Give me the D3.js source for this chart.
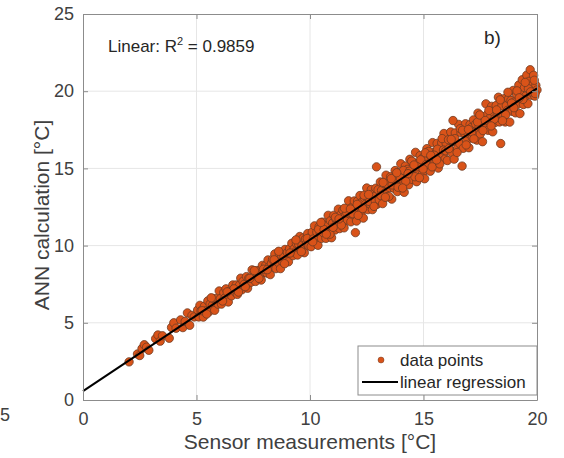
<!DOCTYPE html>
<html>
<head>
<meta charset="utf-8">
<script src="https://cdn.jsdelivr.net/npm/d3@7"></script>
<style>
  body { margin: 0; background: #fff; }
  text { font-family: "Liberation Sans", Arial, sans-serif; }
</style>
</head>
<body>
<svg width="564" height="458"></svg>
<script>
const sensorValues = [
  2.03, 2.4, 2.5, 2.6, 2.7, 2.8, 2.9, 3.2, 3.3, 3.4, 3.5, 3.8, 3.9, 4.0, 4.1, 4.3, 4.4, 4.5, 4.6, 4.7, 4.8, 4.9,
  5.05, 5.1, 5.15, 5.2, 5.3, 5.35, 5.4, 5.5, 5.55, 5.6, 5.7, 5.75, 5.8, 5.9, 5.95, 6.0, 6.05, 6.1, 6.2, 6.25,
  6.3, 6.4, 6.45, 6.5, 6.55, 6.6, 6.7, 6.75, 6.8, 6.9, 6.95, 7.0, 7.05, 7.1, 7.2, 7.25, 7.3, 7.4, 7.45, 7.5,
  7.6, 7.65, 7.7, 7.8, 7.85, 7.9, 8.0,
  8.05, 8.1, 8.15, 8.2, 8.25, 8.3, 8.35, 8.4, 8.45, 8.5, 8.55, 8.6, 8.65, 8.7, 8.75, 8.8, 8.85, 8.9, 8.95, 9.0,
  9.05, 9.1, 9.15, 9.2, 9.25, 9.3, 9.35, 9.4, 9.45, 9.5, 9.55, 9.6, 9.65, 9.7, 9.75, 9.8, 9.85, 9.9, 9.95, 10.0,
  5.25, 5.65, 6.15, 6.65, 7.15, 7.55, 7.95, 8.12, 8.42, 8.62, 8.88, 9.12, 9.38, 9.62, 9.88, 5.45, 6.35, 6.85, 7.35, 7.75,
  10.05, 10.1, 10.15, 10.2, 10.25, 10.3, 10.35, 10.4, 10.45, 10.5, 10.55, 10.6, 10.65, 10.7, 10.75, 10.8, 10.85, 10.9,
  10.95, 11.0, 11.05, 11.1, 11.15, 11.2, 11.25, 11.3, 11.35, 11.4, 11.45, 11.5, 11.55, 11.6, 11.65, 11.7, 11.75, 11.8,
  11.85, 11.9, 11.95, 12.0, 12.02, 12.05, 12.1, 12.15, 12.2, 12.25, 12.3, 12.35, 12.4, 12.45, 12.5, 12.55, 12.6, 12.65,
  12.7, 12.75, 12.8, 12.85, 12.9, 12.93, 12.95, 13.0,
  10.12, 10.38, 10.62, 10.88, 11.12, 11.38, 11.62, 11.88, 12.12, 12.38, 12.62, 12.88,
  10.48, 10.72, 11.02, 11.28, 11.52, 11.78, 12.08, 12.32, 12.58, 12.82,
  13.05, 13.1, 13.15, 13.2, 13.25, 13.3, 13.35, 13.4, 13.45, 13.5, 13.55, 13.6, 13.65, 13.7, 13.75, 13.8, 13.85, 13.9,
  13.95, 14.0, 14.05, 14.1, 14.15, 14.2, 14.25, 14.3, 14.35, 14.4, 14.45, 14.5, 14.55, 14.6, 14.65, 14.7, 14.75, 14.8,
  14.85, 14.9, 14.95, 15.0, 15.05, 15.1, 15.15, 15.2, 15.25, 15.3, 15.35, 15.4, 15.45, 15.5, 15.55, 15.6, 15.65, 15.7,
  15.75, 15.8, 15.85, 15.9, 15.95, 16.0,
  13.12, 13.38, 13.62, 13.88, 14.12, 14.38, 14.62, 14.88, 15.12, 15.38, 15.62, 15.88,
  13.22, 13.48, 13.72, 13.98, 14.22, 14.48, 14.72, 14.98, 15.22, 15.48, 15.72, 15.98,
  13.32, 13.58, 13.82, 14.08, 14.32, 14.58, 14.82, 15.08, 15.32, 15.58, 15.82,
  16.05, 16.1, 16.15, 16.2, 16.25, 16.3, 16.35, 16.4, 16.45, 16.5, 16.55, 16.6, 16.65, 16.7, 16.75, 16.8, 16.85, 16.9,
  16.95, 17.0, 17.05, 17.1, 16.3, 17.15, 17.2, 17.25, 17.3, 17.35, 17.4, 17.45, 17.5, 17.55, 17.6, 17.65, 17.7, 17.75,
  17.8, 17.85, 17.9, 17.95, 18.0, 18.05, 18.1, 18.15, 18.2, 18.25, 18.3, 18.35, 18.4, 18.45, 18.5, 18.55, 18.6, 18.65,
  18.7, 18.75, 18.8, 18.85, 18.9, 18.95, 19.0, 19.05, 19.1, 19.15, 19.2, 19.25, 19.3, 19.35, 19.4, 19.45, 19.5, 19.55,
  19.6, 19.65, 19.7, 19.75, 19.8, 19.85, 19.9, 19.95, 20.0,
  16.12, 16.38, 16.62, 16.88, 17.12, 17.38, 17.62, 17.88, 18.12, 18.38, 18.62, 18.88, 19.12, 19.38, 19.62, 19.88,
  16.22, 16.48, 16.72, 16.98, 17.22, 17.48, 17.72, 17.98, 18.22, 18.48, 18.72, 18.98, 19.22, 19.48, 19.72, 19.92
];
const annValues = [
  2.47, 2.98, 2.88, 3.33, 3.58, 3.42, 3.22, 3.97, 4.21, 3.81, 4.16, 4.0, 4.7, 5.0, 4.65, 5.19, 4.69, 5.09, 5.64, 4.84, 5.48, 5.38,
  5.83, 5.38, 6.13, 5.78, 5.37, 6.07, 5.77, 6.42, 5.72, 6.22, 6.12, 6.57, 5.81, 6.56, 6.21, 7.06, 6.56, 6.21, 6.96, 6.61,
  7.2, 6.35, 7.05, 6.95, 6.75, 7.45, 7.0, 7.45, 6.84, 7.44, 7.89, 7.14, 7.69, 7.49, 7.99, 7.24, 7.88, 7.63, 8.43, 7.98,
  7.68, 8.38, 8.03, 8.42, 7.77, 8.72, 8.27,
  8.72, 8.22, 9.07, 8.62, 8.12, 8.86, 9.11, 8.61, 9.46, 8.51, 9.06, 8.91, 9.46, 8.51, 9.36, 8.95, 9.3, 9.75, 9.0, 9.55,
  8.95, 9.8, 9.5, 10.15, 9.35, 9.79, 9.59, 10.14, 9.39, 10.09, 10.59, 9.79, 10.04, 10.49, 9.54, 10.43, 10.13, 10.78, 9.98, 10.53,
  5.78, 6.62, 6.41, 7.2, 7.34, 8.38, 8.47, 8.44, 9.08, 9.63, 8.83, 9.52, 10.37, 9.61, 10.46, 5.57, 7.0, 6.99, 7.88, 7.88,
  9.93, 10.88, 10.43, 11.28, 10.33, 10.87, 10.02, 11.22, 10.82, 10.47, 11.52, 10.82, 11.32, 10.47, 11.27, 11.96, 10.91, 11.61,
  10.51, 11.46, 11.96, 11.01, 11.71, 11.46, 12.36, 11.1, 12.0, 11.55, 12.3, 11.15, 11.95, 12.35, 11.65, 12.9, 12.05, 11.54,
  12.49, 11.99, 12.89, 10.84, 12.46, 11.59, 12.89, 12.29, 13.24, 12.14, 12.83, 11.78, 13.08, 12.68, 13.73, 12.33, 13.08, 12.68,
  13.63, 12.33, 13.37, 13.17, 13.72, 15.1, 12.67, 13.62,
  10.25, 11.05, 11.04, 10.74, 11.83, 11.33, 12.12, 12.07, 11.96, 13.26, 12.85, 12.85,
  11.5, 10.74, 11.18, 11.73, 12.42, 12.37, 12.67, 12.4, 13.31, 12.54,
  12.97, 14.12, 13.57, 12.72, 14.02, 13.41, 14.56, 13.16, 14.01, 13.76, 14.46, 13.01, 14.31, 13.71, 14.86, 14.1, 13.5, 14.7,
  14.1, 15.3, 13.9, 14.6, 13.45, 15.15, 14.3, 14.94, 13.94, 15.59, 14.79, 14.29, 15.39, 14.69, 16.04, 14.14, 15.34, 14.73,
  15.83, 15.18, 14.63, 15.73, 14.33, 15.58, 16.28, 15.18, 15.93, 14.82, 15.72, 16.67, 15.27, 16.07, 15.72, 16.62, 15.02, 16.12,
  15.62, 16.66, 15.91, 17.26, 15.61, 16.61,
  13.24, 13.99, 13.93, 13.78, 14.87, 14.82, 14.46, 15.56, 15.25, 15.1, 16.24, 16.19,
  14.09, 13.19, 14.28, 14.38, 14.17, 15.47, 15.11, 14.96, 16.1, 15.85, 15.29, 16.14,
  13.13, 14.34, 14.72, 13.73, 14.66, 15.22, 14.4, 16.01, 15.84, 15.55, 16.93,
  15.51, 16.86, 16.21, 17.36, 16.01, 16.75, 15.6, 17.3, 16.7, 16.3, 17.85, 16.6, 17.3, 15.15, 16.3, 17.29, 17.89, 16.79,
  17.29, 16.34, 17.84, 17.64, 18.1, 16.99, 18.14, 17.34, 17.88, 16.83, 18.58, 17.73, 17.23, 18.38, 16.73, 18.08, 17.63, 19.18,
  18.47, 17.47, 18.22, 17.97, 19.02, 17.37, 18.62, 17.97, 19.07, 18.47, 19.61, 18.01, 16.61, 19.06, 18.46, 19.51, 18.01, 19.06,
  18.76, 19.51, 18.0, 19.4, 18.7, 20.05, 19.3, 18.6, 19.8, 19.15, 20.4, 18.55, 19.79, 20.74, 19.14, 20.24, 19.69, 21.04,
  19.19, 20.64, 21.39, 19.74, 20.38, 21.03, 19.68, 20.38, 20.08,
  16.28, 16.93, 17.57, 16.52, 17.36, 18.01, 17.45, 18.75, 18.19, 19.44, 18.48, 19.23, 20.02, 19.47, 20.16, 20.71,
  16.88, 16.03, 17.47, 17.52, 16.91, 18.46, 18.1, 17.75, 18.79, 18.09, 19.93, 18.93, 19.57, 20.57, 19.96, 19.85
];
// fitted line: intercept, slope
const fitCoef = [0.58, 0.98];
const fitRange = [0, 20];
const xTicks = [0, 5, 10, 15, 20];
const yTicks = [0, 5, 10, 15, 20, 25];
const legendLabels = ['data points', 'linear regression'];

const points = sensorValues.map((s, i) => ({x: s, y: annValues[i]}));

const svg = d3.select('svg');
const margin = {left: 83, right: 27, top: 14, bottom: 58};
const W = 564 - margin.left - margin.right;
const H = 458 - margin.top - margin.bottom;

const g = svg.append('g')
    .attr('transform', `translate(${margin.left}, ${margin.top})`);

const x = d3.scaleLinear().domain([0, 20]).range([0, W]);
const y = d3.scaleLinear().domain([0, 25]).range([H, 0]);

// grid
g.append('g').selectAll('line')
    .data(xTicks.slice(1, -1))
    .enter().append('line')
    .attr('x1', d => x(d)).attr('x2', d => x(d))
    .attr('y1', 0).attr('y2', H)
    .attr('stroke', '#e6e6e6').attr('stroke-width', 1);
g.append('g').selectAll('line')
    .data(yTicks.slice(1, -1))
    .enter().append('line')
    .attr('y1', d => y(d)).attr('y2', d => y(d))
    .attr('x1', 0).attr('x2', W)
    .attr('stroke', '#e6e6e6').attr('stroke-width', 1);

// points
g.append('g').selectAll('circle')
    .data(points)
    .enter().append('circle')
    .attr('cx', d => x(d.x))
    .attr('cy', d => y(d.y))
    .attr('r', 4.2)
    .attr('fill', '#d95319')
    .attr('stroke', '#6e3b22')
    .attr('stroke-width', 0.8);

// regression line
const line = d3.line()
    .x(d => x(d))
    .y(d => y(fitCoef[0] + fitCoef[1] * d));
g.append('path')
    .datum(fitRange)
    .attr('d', line)
    .attr('fill', 'none')
    .attr('stroke', '#000')
    .attr('stroke-width', 2);

// axes (ticks inside, like matlab)
const tickStyle = sel => {
    sel.select('.domain').attr('stroke', '#8c8c8c');
    sel.selectAll('.tick line').attr('stroke', '#8c8c8c');
    sel.selectAll('.tick text')
        .attr('fill', '#404040')
        .style('font-size', '18px')
        .style('font-family', '"Liberation Sans", Arial, sans-serif');
};
g.append('g')
    .attr('transform', `translate(0, ${H})`)
    .call(d3.axisBottom(x).tickValues(xTicks).tickSize(-5).tickSizeOuter(0).tickPadding(12))
    .call(tickStyle);
g.append('g')
    .call(d3.axisLeft(y).tickValues(yTicks).tickSize(-5).tickSizeOuter(0).tickPadding(9))
    .call(tickStyle);
g.append('g')
    .call(d3.axisTop(x).tickValues(xTicks).tickSize(-5).tickSizeOuter(0).tickFormat(''))
    .call(tickStyle);
g.append('g')
    .attr('transform', `translate(${W}, 0)`)
    .call(d3.axisRight(y).tickValues(yTicks).tickSize(-5).tickSizeOuter(0).tickFormat(''))
    .call(tickStyle);

// axis labels
svg.append('text')
    .attr('x', margin.left + W / 2)
    .attr('y', 449)
    .attr('text-anchor', 'middle')
    .style('font-size', '21px')
    .attr('fill', '#404040')
    .text('Sensor measurements [°C]');
svg.append('text')
    .attr('transform', `translate(49, ${margin.top + H / 2 + 8}) rotate(-90)`)
    .attr('text-anchor', 'middle')
    .style('font-size', '21px')
    .attr('fill', '#404040')
    .text('ANN calculation [°C]');

// annotations
const r2 = svg.append('text')
    .attr('x', 108).attr('y', 52)
    .style('font-size', '17px')
    .attr('fill', '#262626');
r2.append('tspan').text('Linear: R');
r2.append('tspan').attr('dy', -7).style('font-size', '11px').text('2');
r2.append('tspan').attr('dy', 7).text(' = 0.9859');

svg.append('text')
    .attr('x', 484).attr('y', 44)
    .style('font-size', '19px')
    .attr('fill', '#262626')
    .text('b)');

// stray tick label from the neighbouring panel
svg.append('text')
    .attr('x', 0).attr('y', 421)
    .style('font-size', '18px')
    .attr('fill', '#404040')
    .text('5');

// legend
const legend = svg.append('g')
    .attr('class', 'legend')
    .attr('transform', 'translate(358, 346)');
legend.append('rect')
    .attr('width', 179).attr('height', 49)
    .attr('fill', '#fff')
    .attr('stroke', '#8c8c8c');
const legendItems = legend.selectAll('.legend-item')
    .data(legendLabels)
    .enter().append('g')
    .attr('class', 'legend-item')
    .attr('transform', (d, i) => `translate(0, ${14 + i * 22})`);
legendItems.append('text')
    .attr('x', 42)
    .attr('dy', '0.35em')
    .style('font-size', '17px')
    .attr('fill', '#262626')
    .text(d => d);
legendItems.filter((d, i) => i === 0).append('circle')
    .attr('cx', 23).attr('r', 3)
    .attr('fill', '#d95319')
    .attr('stroke', '#6e3b22').attr('stroke-width', 0.5);
legendItems.filter((d, i) => i === 1).append('line')
    .attr('x1', 4).attr('x2', 40)
    .attr('stroke', '#000').attr('stroke-width', 2);
</script>
</body>
</html>
